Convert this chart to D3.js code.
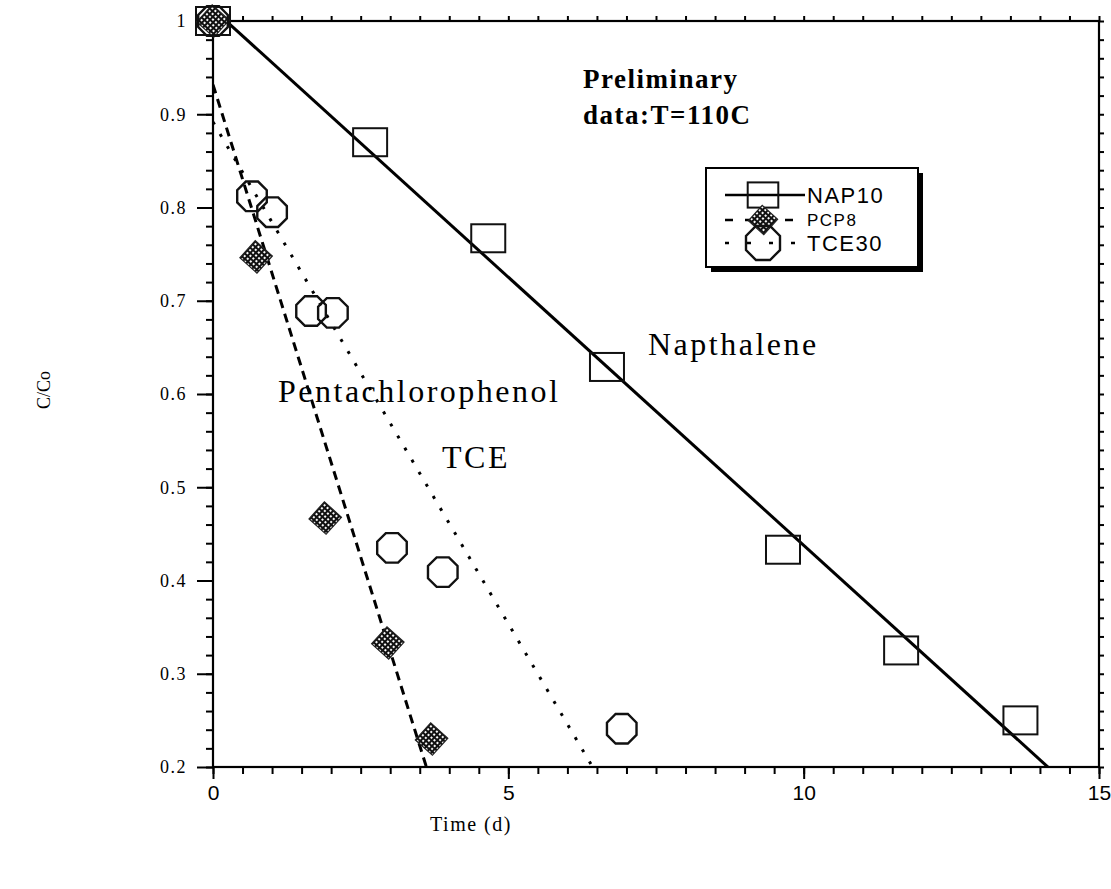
<!DOCTYPE html>
<html>
<head>
<meta charset="utf-8">
<script src="https://cdn.jsdelivr.net/npm/d3@7"></script>
<style>
  body { margin: 0; background: #fff; }
  svg { display: block; font-family: "Liberation Serif", serif; }
</style>
</head>
<body>
<svg id="chart" width="1111" height="889"></svg>
<script>
// readings from the plot: time (d) and C/Co
var napTime = [0, 2.66, 4.66, 6.67, 9.65, 11.65, 13.67];
var napConc = [1.0, 0.870, 0.767, 0.629, 0.433, 0.325, 0.250];
var pcpTime = [0, 0.73, 1.90, 2.96, 3.70];
var pcpConc = [1.0, 0.747, 0.467, 0.333, 0.230];
var tceTime = [0, 0.66, 1.00, 1.66, 2.03, 3.03, 3.89, 6.92];
var tceConc = [1.0, 0.812, 0.795, 0.689, 0.687, 0.435, 0.409, 0.241];

var xTicks = [0, 5, 10, 15];
var yTicks = [0.2, 0.3, 0.4, 0.5, 0.6, 0.7, 0.8, 0.9, 1];
var legendNames = ["NAP10", "PCP8", "TCE30"];
var curveNames = ["Napthalene", "Pentachlorophenol", "TCE"];

var svg = d3.select("#chart"),
    margin = { top: 21, right: 12, bottom: 122, left: 213 },
    width = +svg.attr("width") - margin.left - margin.right,
    height = +svg.attr("height") - margin.top - margin.bottom,
    g = svg.append("g").attr("transform", "translate(" + margin.left + "," + margin.top + ")");

var x = d3.scaleLinear().domain([0, 15]).range([0, width]);
var y = d3.scaleLinear().domain([0.2, 1]).range([height, 0]);

// hatch used for the diamonds
var defs = svg.append("defs");
var pat = defs.append("pattern")
    .attr("id", "hatch")
    .attr("patternUnits", "userSpaceOnUse")
    .attr("width", 4).attr("height", 4);
pat.append("rect").attr("width", 4).attr("height", 4).attr("fill", "#fff");
pat.append("path").attr("d", "M0,1H4M1,0V4").attr("stroke", "#111").attr("stroke-width", 2.1);

defs.append("clipPath").attr("id", "plotClip")
  .append("rect").attr("width", width).attr("height", height);

// octagon-ish marker like the scanned circles
var octagon = {
    draw: function (ctx, size) {
        var r = Math.sqrt(size / Math.PI);
        for (var i = 0; i < 8; i++) {
            var a = Math.PI / 8 + i * Math.PI / 4;
            if (i === 0) ctx.moveTo(r * Math.cos(a), r * Math.sin(a));
            else ctx.lineTo(r * Math.cos(a), r * Math.sin(a));
        }
        ctx.closePath();
    }
};

// least squares fit
function fit(xs, ys) {
    var mx = d3.mean(xs), my = d3.mean(ys), sxy = 0, sxx = 0;
    xs.forEach(function (v, i) { sxy += (v - mx) * (ys[i] - my); sxx += (v - mx) * (v - mx); });
    var b = sxy / sxx;
    return { slope: b, intercept: my - b * mx };
}

var series = [
    { name: legendNames[0], t: napTime, c: napConc, dash: null, mark: "square" },
    { name: legendNames[1], t: pcpTime, c: pcpConc, dash: "9,6", mark: "diamond" },
    { name: legendNames[2], t: tceTime, c: tceConc, dash: "3,11", mark: "circle" }
];

// axes: minor and major ticks on all four sides
var minorX = d3.range(0, 31).map(function (i) { return i / 2; });
var minorY = d3.range(10, 51).map(function (i) { return i / 50; });

function styleAxis(sel) {
    sel.select(".domain").remove();
    sel.selectAll("line").attr("stroke", "#000").attr("stroke-width", 2);
    sel.selectAll("text").attr("font-family", "Liberation Serif").attr("fill", "#000");
}

g.append("g").attr("transform", "translate(0," + height + ")")
    .call(d3.axisBottom(x).tickValues(minorX).tickSize(7).tickFormat("")).call(styleAxis);
g.append("g").attr("transform", "translate(0," + height + ")")
    .call(d3.axisBottom(x).tickValues(xTicks).tickSize(12).tickPadding(6).tickFormat(d3.format("d")))
    .call(styleAxis)
    .selectAll("text").attr("font-size", 21).attr("font-family", "Liberation Sans");

g.append("g")
    .call(d3.axisLeft(y).tickValues(minorY).tickSize(7).tickFormat("")).call(styleAxis);
g.append("g")
    .call(d3.axisLeft(y).tickValues(yTicks).tickSize(16).tickPadding(10)
        .tickFormat(function (d) { return d === 1 ? "1" : d.toFixed(1); }))
    .call(styleAxis)
    .selectAll("text").attr("font-size", 18).attr("letter-spacing", 1.5);

g.append("g")
    .call(d3.axisTop(x).tickValues(minorX).tickSize(5).tickFormat("")).call(styleAxis);
g.append("g").attr("transform", "translate(" + width + ",0)")
    .call(d3.axisRight(y).tickValues(minorY).tickSize(5).tickFormat("")).call(styleAxis);

g.append("rect")
    .attr("width", width).attr("height", height)
    .attr("fill", "none").attr("stroke", "#000").attr("stroke-width", 2.2);

// fitted lines
var line = d3.line()
    .x(function (d) { return x(d[0]); })
    .y(function (d) { return y(d[1]); });

var lines = g.append("g").attr("clip-path", "url(#plotClip)");
series.forEach(function (s) {
    var f = fit(s.t, s.c);
    var pts = [0, 15].map(function (t) { return [t, f.intercept + f.slope * t]; });
    lines.append("path")
        .datum(pts)
        .attr("fill", "none")
        .attr("stroke", "#000")
        .attr("stroke-width", s.dash ? 3 : 3)
        .attr("stroke-dasharray", s.dash)
        .attr("d", line);
});

// markers
function drawMarker(sel, type, scale) {
    scale = scale || 1;
    if (type === "square") {
        sel.append("rect")
            .attr("x", -17 * scale).attr("y", -14 * scale)
            .attr("width", 34 * scale).attr("height", 28 * scale)
            .attr("fill", "none").attr("stroke", "#111").attr("stroke-width", 2);
    } else if (type === "diamond") {
        sel.append("path")
            .attr("d", d3.symbol(d3.symbolSquare, 23 * 23 * scale * scale)())
            .attr("transform", "rotate(42)")
            .attr("fill", "url(#hatch)").attr("stroke", "#222").attr("stroke-width", 1.2);
    } else {
        sel.append("path")
            .attr("d", d3.symbol(octagon, Math.PI * 16 * 16 * scale * scale)())
            .attr("fill", "none").attr("stroke", "#111").attr("stroke-width", 2.4);
    }
}

series.forEach(function (s) {
    g.append("g").selectAll("g")
        .data(s.t.map(function (t, i) { return [t, s.c[i]]; }))
        .join("g")
        .attr("transform", function (d) { return "translate(" + x(d[0]) + "," + y(d[1]) + ")"; })
        .each(function () { drawMarker(d3.select(this), s.mark); });
});

// curve labels
var ann = g.append("g").attr("font-size", 32).attr("letter-spacing", 2.5).attr("fill", "#000");
ann.append("text").attr("x", 435).attr("y", 334).text(curveNames[0]);
ann.append("text").attr("x", 65).attr("y", 381).text(curveNames[1]);
ann.append("text").attr("x", 229).attr("y", 447).text(curveNames[2]);

var title = g.append("g").attr("font-size", 27).attr("font-weight", "bold").attr("letter-spacing", 1.5);
title.append("text").attr("x", 370).attr("y", 67).text("Preliminary");
title.append("text").attr("x", 370).attr("y", 103).text("data:T=110C");

// legend
var leg = svg.append("g").attr("transform", "translate(706,168)");
leg.append("rect").attr("x", 5).attr("y", 5).attr("width", 212).attr("height", 99).attr("fill", "#000");
leg.append("rect").attr("width", 212).attr("height", 99).attr("fill", "#fff").attr("stroke", "#000").attr("stroke-width", 2);
var rowY = [27, 52, 75];
var rowFont = [22, 17, 22];
series.forEach(function (s, i) {
    var row = leg.append("g").attr("transform", "translate(0," + rowY[i] + ")");
    row.append("line").attr("x1", 19).attr("x2", 99)
        .attr("stroke", "#000").attr("stroke-width", s.dash ? 2.6 : 2.4)
        .attr("stroke-dasharray", s.dash ? (i === 1 ? "8,12" : "4,18") : null);
    var m = row.append("g").attr("transform", "translate(57,0)");
    drawMarker(m, s.mark, i === 2 ? 1.15 : 0.9);
    row.append("text").attr("x", 101).attr("dy", "0.35em")
        .attr("font-family", "Liberation Sans").attr("font-size", rowFont[i])
        .attr("letter-spacing", 1.5).text(s.name);
});

// axis titles
svg.append("text")
    .attr("x", 471).attr("y", 831)
    .attr("text-anchor", "middle").attr("font-size", 20).attr("letter-spacing", 1.5)
    .text("Time (d)");
svg.append("text")
    .attr("transform", "translate(50,390) rotate(-90)")
    .attr("text-anchor", "middle").attr("font-size", 18)
    .text("C/Co");
</script>
</body>
</html>
